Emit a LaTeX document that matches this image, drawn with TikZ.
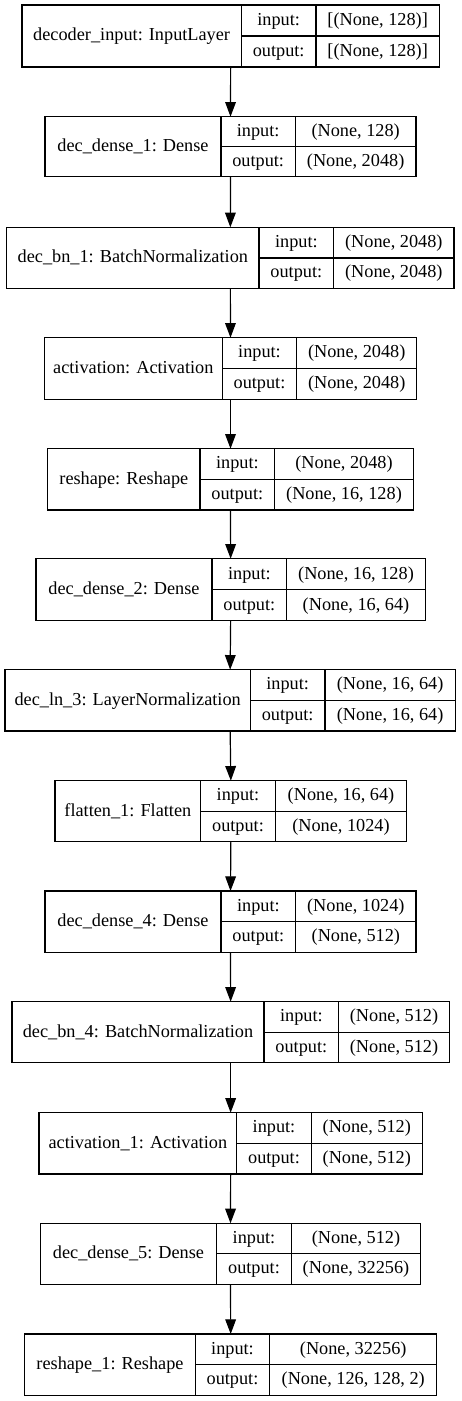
\documentclass[tikz,border=0pt]{standalone}
\usepackage{fontspec}
\setmainfont{Liberation Serif}
\usetikzlibrary{arrows.meta}
\def\cm{,}
\tikzset{
  cellbox/.style={draw=black, line width=1pt, inner sep=0pt, outer sep=0pt,
    font=\fontsize{13.7}{16}\selectfont, text height=0.94em, text depth=0.22em,
    rectangle, align=center},
  wholebox/.style={inner sep=0pt, outer sep=0pt, rectangle},
  flow/.style={draw=black, line width=0.9pt, -{Triangle[length=11pt,width=8pt]}}
}
\begin{document}
\begin{tikzpicture}[x=0.75pt,y=-0.75pt]
\useasboundingbox (0,0) rectangle (461,1401);
\fill[white] (0,0) rectangle (461,1401);
\foreach \nn/\xL/\xA/\xB/\xR/\yT/\yB/\lab/\vin/\vout in {
 b1/22/241.3/316/439.3/5/67/decoder\_input: InputLayer/[(None\cm{} 128)]/[(None\cm{} 128)],
 b2/45/221/295.3/416/116.7/176.7/dec\_dense\_1: Dense/(None\cm{} 128)/(None\cm{} 2048),
 b3/6.7/259/333.7/454/227.3/288.5/dec\_bn\_1: BatchNormalization/(None\cm{} 2048)/(None\cm{} 2048),
 b4/44.3/222.3/296.7/416.7/337.7/399.3/activation: Activation/(None\cm{} 2048)/(None\cm{} 2048),
 b5/47.7/200/274.7/413.3/448.7/510/reshape: Reshape/(None\cm{} 2048)/(None\cm{} 16\cm{} 128),
 b6/36/212/286.7/425.3/558.7/620.7/dec\_dense\_2: Dense/(None\cm{} 16\cm{} 128)/(None\cm{} 16\cm{} 64),
 b7/5/250.3/325/455.3/669.7/731/dec\_ln\_3: LayerNormalization/(None\cm{} 16\cm{} 64)/(None\cm{} 16\cm{} 64),
 b8/55/200.7/275.3/406.7/780.7/841.7/flatten\_1: Flatten/(None\cm{} 16\cm{} 64)/(None\cm{} 1024),
 b9/45/221/295.7/416/891/952.3/dec\_dense\_4: Dense/(None\cm{} 1024)/(None\cm{} 512),
 b10/12/264/338.7/449.3/1001.7/1062.7/dec\_bn\_4: BatchNormalization/(None\cm{} 512)/(None\cm{} 512),
 b11/39/236.7/311.3/422.3/1112.7/1174/activation\_1: Activation/(None\cm{} 512)/(None\cm{} 512),
 b12/40.3/216.7/291.3/420.7/1223.3/1284.3/dec\_dense\_5: Dense/(None\cm{} 512)/(None\cm{} 32256),
 b13/24.7/195.3/269.7/436.7/1334/1395.3/reshape\_1: Reshape/(None\cm{} 32256)/(None\cm{} 126\cm{} 128\cm{} 2)%
}{
  \pgfmathsetmacro{\ym}{(\yT+\yB)/2}
  \node[wholebox, minimum width={(\xR-\xL)*0.75pt}, minimum height={(\yB-\yT)*0.75pt}]
    (\nn) at ({(\xL+\xR)/2},{\ym}) {};
  \node[cellbox, minimum width={(\xA-\xL)*0.75pt}, minimum height={(\yB-\yT)*0.75pt}]
    (\nn-name) at ({(\xL+\xA)/2},{\ym}) {\lab};
  \node[cellbox, minimum width={(\xB-\xA)*0.75pt}, minimum height={(\ym-\yT)*0.75pt}]
    (\nn-il) at ({(\xA+\xB)/2},{(\yT+\ym)/2}) {input:};
  \node[cellbox, minimum width={(\xR-\xB)*0.75pt}, minimum height={(\ym-\yT)*0.75pt}]
    (\nn-iv) at ({(\xB+\xR)/2},{(\yT+\ym)/2}) {\vin};
  \node[cellbox, minimum width={(\xB-\xA)*0.75pt}, minimum height={(\yB-\ym)*0.75pt}]
    (\nn-ol) at ({(\xA+\xB)/2},{(\ym+\yB)/2}) {output:};
  \node[cellbox, minimum width={(\xR-\xB)*0.75pt}, minimum height={(\yB-\ym)*0.75pt}]
    (\nn-ov) at ({(\xB+\xR)/2},{(\ym+\yB)/2}) {\vout};
}
\foreach \pp/\qq in {b1/b2,b2/b3,b3/b4,b4/b5,b5/b6,b6/b7,b7/b8,b8/b9,b9/b10,b10/b11,b11/b12,b12/b13}{
  \draw[flow] (\pp.south) -- (\qq.north);
}
\end{tikzpicture}
\end{document}
